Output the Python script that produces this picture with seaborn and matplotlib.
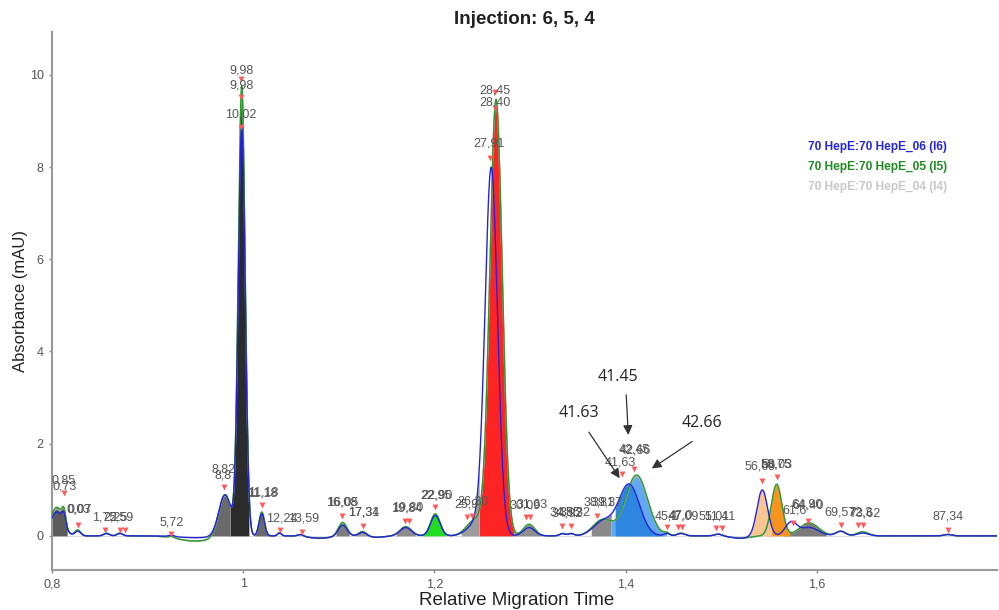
import numpy as np
import pandas as pd
import matplotlib
matplotlib.use("Agg")
import matplotlib.pyplot as plt
import seaborn as sns

# ---------------- data ----------------
# peak table shared by the three injections (position, width, heights per trace)
PEAK_POS = [0.805, 0.8125, 0.827, 0.857, 0.871, 0.925, 0.950, 0.981, 0.9985,
            1.0195, 1.038, 1.060, 1.080, 1.104, 1.125, 1.140, 1.170, 1.201,
            1.243, 1.2645, 1.2595, 1.299, 1.334, 1.343, 1.376, 1.4115, 1.4035,
            1.443, 1.458, 1.497, 1.520, 1.543, 1.558, 1.573, 1.592, 1.625,
            1.648, 1.737]
PEAK_WIDTH = [0.0065, 0.002, 0.003, 0.003, 0.003, 0.003, 0.018, 0.0065, 0.0036,
              0.0028, 0.002, 0.003, 0.012, 0.0045, 0.004, 0.008, 0.006, 0.005,
              0.009, 0.0065, 0.0065, 0.006, 0.003, 0.003, 0.010, 0.0115, 0.011,
              0.003, 0.004, 0.004, 0.010, 0.0055, 0.0055, 0.006, 0.010, 0.005,
              0.006, 0.004]
HEIGHT_I4 = [0.58, 0.30, 0.12, 0.05, 0.06, 0.03, -0.12, 0.90, 9.60,
             0.50, 0.07, 0.04, -0.05, 0.28, 0.10, -0.03, 0.20, 0.46,
             0.35, 9.40, 0.00, 0.25, 0.05, 0.05, 0.35, 1.28, 0.00,
             0.05, 0.06, 0.04, -0.05, 0.00, 1.10, 0.00, 0.28, 0.10,
             0.08, 0.03]
HEIGHT_I5 = [0.62, 0.30, 0.13, 0.06, 0.06, 0.03, -0.11, 0.92, 9.75,
             0.52, 0.07, 0.04, -0.05, 0.30, 0.10, -0.03, 0.20, 0.48,
             0.35, 9.45, 0.00, 0.25, 0.05, 0.05, 0.35, 1.32, 0.00,
             0.05, 0.06, 0.04, -0.05, 0.00, 1.12, 0.00, 0.28, 0.10,
             0.09, 0.03]
HEIGHT_I6 = [0.52, 0.25, 0.10, 0.05, 0.05, 0.03, -0.04, 0.90, 8.85,
             0.48, 0.06, 0.04, -0.05, 0.24, 0.08, -0.03, 0.18, 0.44,
             0.25, 0.00, 7.95, 0.18, 0.05, 0.05, 0.30, 0.00, 1.12,
             0.05, 0.05, 0.04, -0.05, 1.00, 0.00, 0.28, 0.18, 0.10,
             0.06, 0.03]

TRACE_NAMES = ["70 HepE:70 HepE_04 (I4)", "70 HepE:70 HepE_05 (I5)", "70 HepE:70 HepE_06 (I6)"]
TRACE_COLORS = ["#b4b4b4", "#2e9a2e", "#2424d8"]

# integrated (filled) regions
FILL_START = [0.800, 0.962, 0.9865, 1.012, 1.097, 1.117, 1.160, 1.188, 1.228, 1.247,
              1.283, 1.364, 1.385, 1.389, 1.565, 1.548, 1.528]
FILL_END = [0.816, 0.9865, 1.006, 1.028, 1.111, 1.133, 1.180, 1.212, 1.247, 1.283,
            1.312, 1.385, 1.443, 1.438, 1.610, 1.572, 1.553]
FILL_COLOR = ["#5c5c5c", "#6a6a6a", "#2b2b2b", "#6a6a6a", "#7c7c7c", "#9a9a9a", "#8c8c8c",
              "#22dd22", "#9c9c9c", "#ff2424", "#8e8e8e", "#8a8a8a", "#63a9f0", "#2f86e0",
              "#7a7a7a", "#f7941d", "#f9c593"]
FILL_TRACE = ["max", "max", "max", "max", "max", "max", "max", "I5", "max", "I5",
              "max", "max", "I5", "I6", "I4", "I5", "I6"]

# peak labels
LABEL_TEXT = ["0,85", "0,73", "0,03", "0,07", "1,75", "2,25", "2,59", "5,72", "8,82", "8,8",
              "9,98", "9,98", "10,02", "11,18", "11,18", "12,24", "13,59", "16,08", "16,05",
              "17,31", "17,34", "19,84", "19,80", "22,95", "22,90", "25,9", "26,30",
              "28,45", "28,40", "27,91", "30,09", "31,63", "34,85", "35,32", "34,92",
              "38,81", "39,37", "41,63", "42,45", "42,66", "45,1", "47,09", "47,0", "51,01", "51,41",
              "56,69", "58,75", "58,03", "61,6", "64,90", "64,40", "69,57", "72,3", "73,62", "87,34"]
LABEL_X = [0.8125, 0.8135, 0.8275, 0.8285, 0.855, 0.866, 0.873, 0.925, 0.980, 0.9785,
           0.998, 0.998, 0.998, 1.0195, 1.0205, 1.0405, 1.0635, 1.1035, 1.1045,
           1.126, 1.1265, 1.171, 1.172, 1.2015, 1.2025, 1.234, 1.2405,
           1.2635, 1.2635, 1.2575, 1.2945, 1.302, 1.337, 1.347, 1.339,
           1.3725, 1.381, 1.395, 1.409, 1.410, 1.443, 1.460, 1.458, 1.493, 1.499,
           1.541, 1.557, 1.558, 1.577, 1.590, 1.591, 1.624, 1.646, 1.650, 1.737]
LABEL_Y = [1.21, 1.08, 0.57, 0.58, 0.39, 0.39, 0.39, 0.28, 1.43, 1.30,
           10.10, 9.76, 9.13, 0.92, 0.93, 0.37, 0.37, 0.72, 0.73,
           0.50, 0.51, 0.60, 0.61, 0.87, 0.88, 0.68, 0.74,
           9.67, 9.39, 8.50, 0.66, 0.67, 0.50, 0.50, 0.49,
           0.72, 0.73, 1.60, 1.87, 1.86, 0.43, 0.43, 0.44, 0.43, 0.43,
           1.50, 1.54, 1.55, 0.56, 0.67, 0.66, 0.50, 0.50, 0.49, 0.41]

# peak markers
MARK_X = [0.8125, 0.827, 0.856, 0.871, 0.876, 0.925, 0.980, 0.998, 0.998, 0.998,
          1.0195, 1.0385, 1.0615, 1.1035, 1.125, 1.169, 1.173, 1.201, 1.2345, 1.239,
          1.2635, 1.2635, 1.2585, 1.296, 1.300, 1.334, 1.343, 1.370, 1.3965, 1.4085,
          1.443, 1.455, 1.459, 1.495, 1.5005, 1.543, 1.558, 1.575, 1.591, 1.625,
          1.643, 1.648, 1.737]
MARK_Y = [0.93, 0.24, 0.13, 0.13, 0.13, 0.04, 1.06, 9.90, 9.52, 8.87,
          0.67, 0.13, 0.09, 0.43, 0.22, 0.33, 0.33, 0.63, 0.41, 0.43,
          9.62, 9.28, 8.20, 0.41, 0.41, 0.22, 0.22, 0.44, 1.34, 1.45,
          0.19, 0.19, 0.19, 0.17, 0.17, 1.19, 1.28, 0.28, 0.33, 0.24,
          0.23, 0.23, 0.13]

# manual annotations with arrows
ANN_TEXT = ["41.45", "41.63", "42.66"]
ANN_TEXT_XY = [(1.392, 3.44), (1.351, 2.67), (1.480, 2.45)]
ANN_TAIL_XY = [(1.4005, 3.12), (1.360, 2.30), (1.472, 2.08)]
ANN_HEAD_XY = [(1.403, 2.13), (1.3955, 1.20), (1.425, 1.43)]

# ---------------- build traces ----------------
x = np.linspace(0.795, 1.79, 5000)
pos = np.array(PEAK_POS)
wid = np.array(PEAK_WIDTH)


def trace(heights):
    h = np.array(heights)
    return (h[None, :] * np.exp(-0.5 * ((x[:, None] - pos[None, :]) / wid[None, :]) ** 2)).sum(axis=1)


traces = {"I4": trace(HEIGHT_I4), "I5": trace(HEIGHT_I5), "I6": trace(HEIGHT_I6)}
df = pd.concat([pd.DataFrame({"x": x, "y": traces[k], "trace": n})
                for k, n in zip(["I4", "I5", "I6"], TRACE_NAMES)], ignore_index=True)

# ---------------- plot ----------------
sns.set_theme(style="white")
plt.rcParams["font.family"] = ["Liberation Sans", "DejaVu Sans"]

fig = plt.figure(figsize=(9.99, 6.10), dpi=100)
ax = fig.add_axes([0.052, 0.0656, 0.946, 0.882])

envelope = np.maximum(np.maximum(traces["I4"], traces["I5"]), traces["I6"])
for s, e, c, t in zip(FILL_START, FILL_END, FILL_COLOR, FILL_TRACE):
    yy = envelope if t == "max" else traces[t]
    m = (x >= s) & (x <= e)
    ax.fill_between(x[m], 0, np.clip(yy[m], 0, None), color=c, lw=0, zorder=1)

sns.lineplot(data=df, x="x", y="y", hue="trace", hue_order=TRACE_NAMES,
             palette=dict(zip(TRACE_NAMES, TRACE_COLORS)), estimator=None,
             errorbar=None, legend=False, lw=1.0, ax=ax, zorder=3)

ax.scatter(MARK_X, MARK_Y, marker="v", s=18, color="#ff5a5a", lw=0, zorder=4)
for t, lx, ly in zip(LABEL_TEXT, LABEL_X, LABEL_Y):
    ax.text(lx, ly, t, ha="center", va="center", fontsize=9, color="#555555", zorder=5)

for t, txy, tail, head in zip(ANN_TEXT, ANN_TEXT_XY, ANN_TAIL_XY, ANN_HEAD_XY):
    ax.text(txy[0], txy[1], t, ha="center", va="center", fontsize=11.5, color="#222222",
            family=["Open Sans", "DejaVu Sans"], zorder=6)
    ax.annotate("", xy=head, xytext=tail,
                arrowprops=dict(arrowstyle="-|>", color="#333333", lw=0.9, mutation_scale=14),
                zorder=6)

ax.set_xlim(0.8, 1.7885)
ax.set_ylim(-0.74, 10.93)
ax.set_xticks([0.8, 1.0, 1.2, 1.4, 1.6])
ax.set_xticklabels(["0,8", "1", "1,2", "1,4", "1,6"])
ax.set_yticks([0, 2, 4, 6, 8, 10])
ax.set_yticklabels(["0", "2", "4", "6", "8", "10"])
ax.tick_params(axis="both", colors="#888888", labelcolor="#555555", labelsize=9,
               length=2, width=1, pad=4, left=True, bottom=True)
for side in ["top", "right"]:
    ax.spines[side].set_visible(False)
for side in ["left", "bottom"]:
    ax.spines[side].set_color("#9a9a9a")
    ax.spines[side].set_linewidth(1.5)
ax.axhline(0, color="#dddddd", lw=0.8, zorder=0)

ax.set_xlabel("Relative Migration Time", fontsize=13.5, color="#222222", va="center")
ax.xaxis.set_label_coords(0.492, -31 / 538)
ax.set_ylabel("Absorbance (mAU)", fontsize=12, color="#222222", va="center")
ax.yaxis.set_label_coords(-31 / 945, 0.5)
ax.set_title("Injection: 6, 5, 4", fontsize=13.5, fontweight="bold", color="#222222", pad=6)

legend_colors = ["#2424d8", "#1f8a1f", "#c8c8c8"]
legend_names = [TRACE_NAMES[2], TRACE_NAMES[1], TRACE_NAMES[0]]
for i, (n, c) in enumerate(zip(legend_names, legend_colors)):
    fig.text(808 / 999, 1 - (147 + 20 * i) / 610, n, ha="left", va="center",
             fontsize=8.6, fontweight="bold", color=c)

fig.savefig("out.png", dpi=100)
